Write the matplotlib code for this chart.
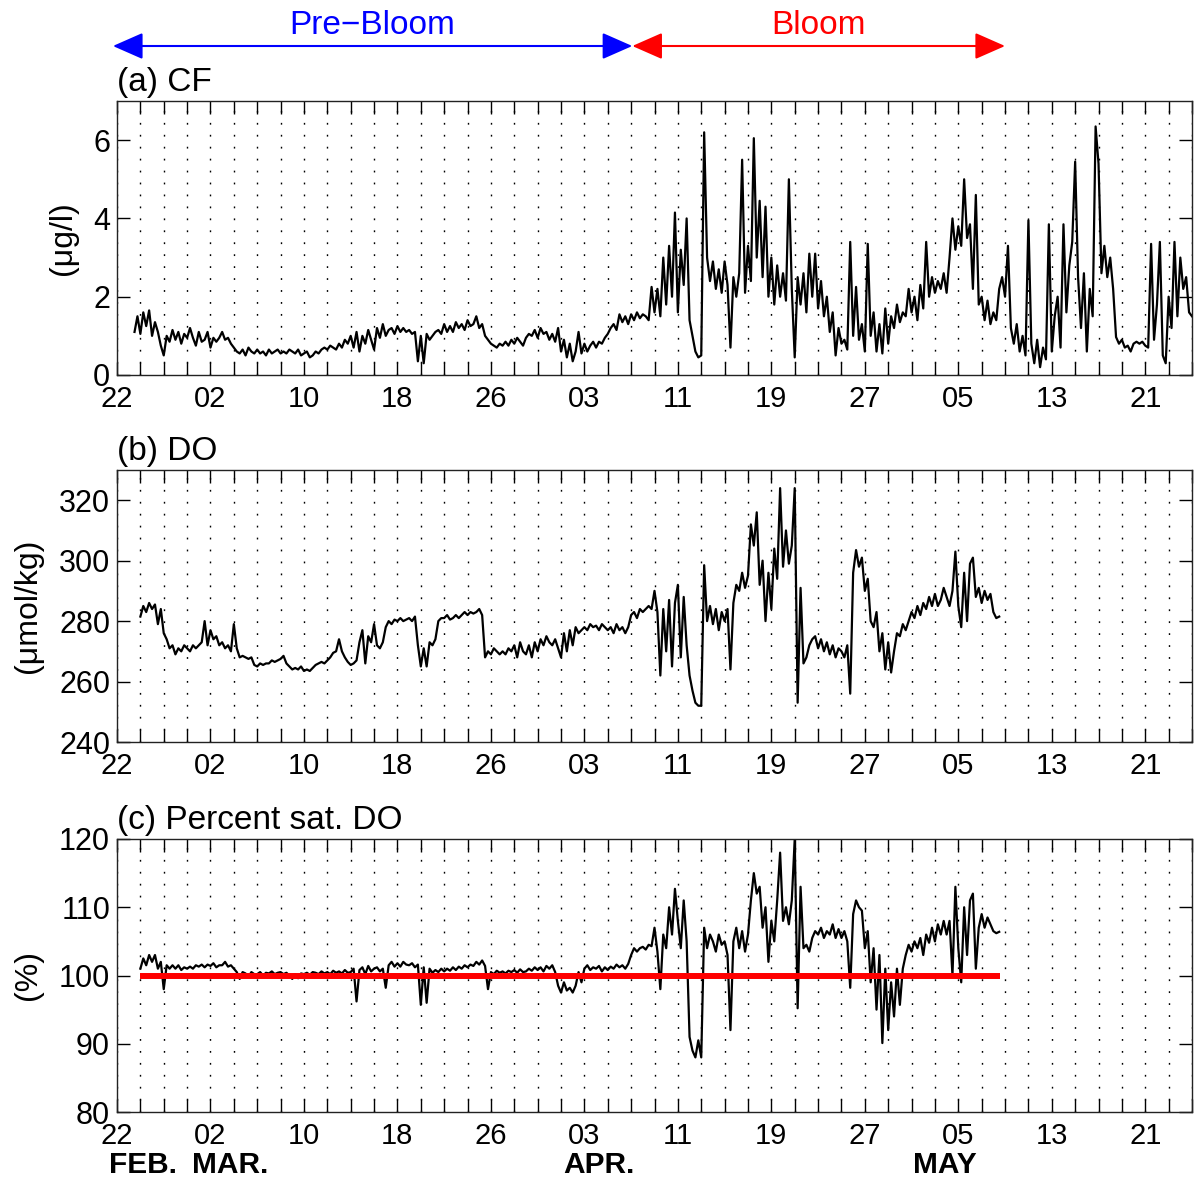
import numpy as np
import matplotlib
matplotlib.use('Agg')
import matplotlib.pyplot as plt

plt.rcParams['font.family'] = ['Liberation Sans', 'DejaVu Sans']

# ---------------------------------------------------------------
# Data (days since 22 Feb, sampled every 0.25 day, read off figure)
# ---------------------------------------------------------------
step = 0.25

cf_day0 = 1.5
cf = [
    1.1, 1.5, 1.05, 1.6,      # 1.5
    1.25, 1.65, 1.0, 1.35,    # 2.5
    1.1, 0.75, 0.5, 1.0,      # 3.5
    0.85, 1.15, 0.9, 1.1,     # 4.5
    0.8, 1.05, 0.95, 1.2,     # 5.5
    0.95, 0.75, 1.1, 0.85,    # 6.5
    0.9, 1.1, 0.7, 0.95,      # 7.5
    0.85, 0.95, 1.1, 0.9,     # 8.5
    0.95, 0.8, 0.7, 0.6,      # 9.5
    0.55, 0.65, 0.5, 0.7,     # 10.5
    0.6, 0.55, 0.65, 0.55,    # 11.5
    0.6, 0.5, 0.65, 0.55,     # 12.5
    0.6, 0.65, 0.55, 0.6,     # 13.5
    0.55, 0.65, 0.6, 0.55,    # 14.5
    0.65, 0.5, 0.55, 0.6,     # 15.5
    0.45, 0.5, 0.6, 0.55,     # 16.5
    0.65, 0.7, 0.65, 0.75,    # 17.5
    0.7, 0.65, 0.8, 0.7,      # 18.5
    0.9, 0.8, 1.0, 0.7,       # 19.5
    1.1, 0.6, 1.0, 0.8,       # 20.5
    1.15, 0.9, 0.65, 1.2,     # 21.5
    0.95, 1.3, 1.0, 1.15,     # 22.5
    1.2, 1.05, 1.25, 1.1,     # 23.5
    1.2, 1.1, 1.15, 1.05,     # 24.5
    1.1, 0.35, 1.0, 0.3,      # 25.5
    1.05, 0.9, 1.0, 1.1,      # 26.5
    1.15, 1.05, 1.3, 1.1,     # 27.5
    1.25, 1.1, 1.35, 1.2,     # 28.5
    1.3, 1.15, 1.4, 1.25,     # 29.5
    1.3, 1.5, 1.2, 1.3,       # 30.5
    1.0, 0.9, 0.8, 0.75,      # 31.5
    0.7, 0.8, 0.75, 0.85,     # 32.5
    0.75, 0.9, 0.8, 0.95,     # 33.5
    0.85, 0.75, 0.95, 1.05,   # 34.5
    1.0, 1.15, 0.95, 1.2,     # 35.5
    1.05, 1.1, 0.9, 1.05,     # 36.5
    0.85, 1.2, 0.6, 0.9,      # 37.5
    0.45, 0.8, 0.35, 0.6,     # 38.5
    1.1, 0.55, 0.8, 0.6,      # 39.5
    0.75, 0.85, 0.7, 0.85,    # 40.5
    0.8, 0.95, 1.05, 1.2,     # 41.5
    1.3, 1.15, 1.55, 1.35,    # 42.5
    1.5, 1.3, 1.55, 1.4,      # 43.5
    1.6, 1.45, 1.55, 1.5,     # 44.5
    1.4, 2.25, 1.6, 2.2,      # 45.5
    1.5, 3.0, 1.8, 3.3,       # 46.5
    2.0, 4.15, 1.6, 3.2,      # 47.5
    2.3, 4.0, 1.4, 1.0,       # 48.5
    0.6, 0.45, 0.5, 6.2,      # 49.5
    3.0, 2.4, 2.9, 2.2,       # 50.5
    2.7, 2.1, 2.9, 2.3,       # 51.5
    0.7, 2.5, 2.0, 2.6,       # 52.5
    5.5, 2.1, 3.3, 2.4,       # 53.5
    6.05, 3.0, 4.45, 2.5,     # 54.5
    4.3, 2.0, 3.0, 1.8,       # 55.5
    2.8, 2.0, 2.6, 1.9,       # 56.5
    5.0, 2.2, 0.45, 2.5,      # 57.5
    1.8, 2.6, 1.6, 3.1,       # 58.5
    2.0, 3.1, 1.7, 2.4,       # 59.5
    1.5, 2.0, 1.1, 1.6,       # 60.5
    0.5, 1.2, 0.8, 0.9,       # 61.5
    0.65, 3.4, 1.0, 2.25,     # 62.5
    0.9, 1.3, 0.6, 3.35,      # 63.5
    1.0, 1.6, 0.6, 1.3,       # 64.5
    0.55, 1.7, 0.8, 1.5,      # 65.5
    1.2, 1.8, 1.35, 1.6,      # 66.5
    1.5, 2.2, 1.6, 2.0,       # 67.5
    1.4, 2.3, 1.7, 3.4,       # 68.5
    2.0, 2.5, 2.1, 2.4,       # 69.5
    2.2, 2.6, 2.1, 3.0,       # 70.5
    4.0, 3.2, 3.8, 3.3,       # 71.5
    5.0, 3.5, 3.85, 2.2,      # 72.5
    4.6, 1.8, 2.0, 1.4,       # 73.5
    1.9, 1.3, 1.6, 1.4,       # 74.5
    2.2, 2.5, 2.0, 3.3,       # 75.5
    1.2, 0.8, 1.3, 0.6,       # 76.5
    1.0, 0.5, 3.95, 0.8,      # 77.5
    0.3, 0.9, 0.2, 0.7,       # 78.5
    0.4, 3.85, 0.6, 1.5,      # 79.5
    2.0, 0.7, 3.85, 1.6,      # 80.5
    2.8, 3.4, 5.45, 2.5,      # 81.5
    1.2, 2.6, 0.6, 2.2,       # 82.5
    1.5, 6.35, 5.4, 2.6,      # 83.5
    3.3, 2.5, 3.0, 2.2,       # 84.5
    0.97, 0.8, 0.9, 0.7,      # 85.5
    0.75, 0.6, 0.8, 0.85,     # 86.5
    0.8, 0.85, 0.75, 0.7,     # 87.5
    3.35, 0.9, 1.8, 3.4,      # 88.5
    0.5, 0.3, 2.0, 1.2,       # 89.5
    3.4, 1.5, 3.0, 2.2,       # 90.5
    2.5, 1.6, 1.5,            # 91.5
]

do_day0 = 2.0
do = [
    281.5, 285, 283, 286,     # 2
    284, 285.5, 279, 284,     # 3
    276, 274, 271, 272,       # 4
    269, 271, 270, 272,       # 5
    271, 270, 272, 271,       # 6
    272, 273, 280, 272,       # 7
    277, 274, 275, 272,       # 8
    273, 271, 272, 270,       # 9
    279, 271, 268, 268.5,     # 10
    268, 267.5, 268, 265.5,   # 11
    265, 266, 265.5, 266,     # 12
    266, 267, 266.5, 267,     # 13
    267.5, 268.5, 266, 265,   # 14
    264, 264.5, 264, 265,     # 15
    263.5, 264, 263.5, 264.5, # 16
    265.5, 266, 266.5, 266,   # 17
    267, 268, 269.5, 270,     # 18
    274, 270, 268, 266.5,     # 19
    265.5, 266, 267, 273,     # 20
    277, 266, 275, 273,       # 21
    279, 272, 271, 273,       # 22
    278, 280, 279, 280.5,     # 23
    280, 281, 280, 280.5,     # 24
    281, 280, 281.5, 272,     # 25
    265, 271, 265, 273,       # 26
    272, 274, 280, 281,       # 27
    281, 282, 280.5, 281,     # 28
    282, 281, 282, 283,       # 29
    282, 283, 282.5, 283,     # 30
    284, 282, 268, 270,       # 31
    269, 271, 270, 269,       # 32
    270, 269, 271, 270,       # 33
    272, 268, 273, 270,       # 34
    269, 272, 268, 273,       # 35
    270, 274, 272, 275,       # 36
    273, 272, 274, 271,       # 37
    268, 276, 270, 277,       # 38
    272, 278, 276, 277,       # 39
    278, 277, 279, 278,       # 40
    278.5, 277, 279, 278,     # 41
    277, 278, 276, 279,       # 42
    277, 278, 276, 278,       # 43
    282, 283, 281, 284,       # 44
    283, 284, 285, 284,       # 45
    290, 283, 262, 284,       # 46
    270, 287, 265, 286,       # 47
    292, 268, 288, 272,       # 48
    262, 257, 253, 252,       # 49
    252, 298.5, 280, 285,     # 50
    279, 284, 277, 283,       # 51
    280, 284, 264, 286,       # 52
    292, 290, 296, 291,       # 53
    295, 312, 305, 316,       # 54
    292, 300, 280, 296,       # 55
    284, 304, 294, 324,       # 56
    298, 310, 299, 305,       # 57
    324, 253, 291, 266,       # 58
    268, 272, 274, 275,       # 59
    271, 274, 270, 273,       # 60
    269, 272, 268, 271,       # 61
    270, 268, 272, 256,       # 62
    296, 303.5, 298, 301,     # 63
    290, 294, 280, 278,       # 64
    283, 270, 276, 264,       # 65
    273, 263, 270, 276,       # 66
    275, 279, 277, 280,       # 67
    283, 281, 285, 282,       # 68
    286, 284, 288, 285,       # 69
    289, 285, 287, 291,       # 70
    288, 285, 290, 303,       # 71
    285, 278, 296, 280,       # 72
    299, 301, 288, 291,       # 73
    286, 290, 287, 289,       # 74
    283, 281, 281.5,          # 75
]

sat_day0 = 2.0
sat = [
    101, 102.5, 101.5, 103,       # 2
    102, 103, 101, 102,           # 3
    98, 101.5, 101, 101.5,        # 4
    101, 101.5, 100.8, 101.2,     # 5
    101, 101.3, 101, 101.5,       # 6
    101.3, 101.6, 101.2, 101.6,   # 7
    101.4, 101.8, 101.2, 101.5,   # 8
    101.5, 102, 101.3, 101.5,     # 9
    101, 100.5, 99.5, 100.5,      # 10
    100.3, 99.8, 100.5, 100.2,    # 11
    100.2, 100.5, 100, 100.4,     # 12
    100.3, 100.6, 100.2, 100.4,   # 13
    100.5, 100.2, 100.4, 100,     # 14
    99.5, 100.2, 99.6, 100.3,     # 15
    100.2, 100.4, 100.1, 100.5,   # 16
    100.4, 100.2, 100.6, 100.3,   # 17
    100.5, 100.2, 100.7, 100.4,   # 18
    100.6, 100.3, 100.8, 100.4,   # 19
    100.5, 101, 96.2, 100.8,      # 20
    101.2, 100.2, 101.4, 100.6,   # 21
    101, 101.2, 100.6, 101,       # 22
    98.2, 101.5, 102, 101.3,      # 23
    101.8, 101.3, 102, 101.6,     # 24
    101.5, 101.8, 101.2, 101.6,   # 25
    95.7, 101.2, 96, 101,         # 26
    100.4, 100.8, 100.5, 101,     # 27
    100.6, 101, 100.7, 101.2,     # 28
    100.8, 101.3, 101, 101.5,     # 29
    101.2, 101.6, 101.4, 102,     # 30
    101.6, 102.2, 101.4, 98,      # 31
    100.5, 100.2, 100.7, 100.4,   # 32
    100.6, 100.3, 100.7, 100.5,   # 33
    100.8, 100.4, 100.9, 100.5,   # 34
    100.6, 101, 100.7, 101.2,     # 35
    100.8, 101.2, 100.6, 101.4,   # 36
    101, 101.5, 100.5, 98.5,      # 37
    97.5, 99, 97.8, 98.2,         # 38
    97.5, 98.5, 100.5, 99,        # 39
    101, 101.5, 100.8, 101.2,     # 40
    101, 101.4, 100.6, 101.2,     # 41
    100.8, 101.3, 101, 101.6,     # 42
    101.2, 101.5, 101, 101.7,     # 43
    103, 104, 103.5, 104,         # 44
    104.2, 103.8, 104.5, 104.3,   # 45
    107, 103.5, 98, 106,          # 46
    104, 110, 106, 112.7,         # 47
    108, 104, 111, 105,           # 48
    91, 89, 88, 90.5,             # 49
    88, 107, 104, 106,            # 50
    105, 103.5, 106, 104.5,       # 51
    105, 103, 92, 105,            # 52
    107, 104, 106.5, 103.5,       # 53
    106, 111, 115, 112,           # 54
    113, 107, 110, 102,           # 55
    108, 105, 111, 118,           # 56
    108, 110, 107.5, 111,         # 57
    120, 95.2, 113, 104,          # 58
    104.5, 103.5, 105.5, 106.5,   # 59
    106, 107, 105.5, 106.5,       # 60
    106, 107.5, 105.5, 106.8,     # 61
    105.5, 106.5, 105, 98.2,      # 62
    109, 111, 110, 109.5,         # 63
    104, 106.5, 99, 104,          # 64
    95, 103, 90.1, 101,           # 65
    92, 99, 94, 101,              # 66
    95.7, 101, 103, 104.5,        # 67
    103.5, 105, 104, 105.5,       # 68
    103, 106, 104.8, 107,         # 69
    105, 107.5, 106, 108,         # 70
    106, 108, 100, 113,           # 71
    104, 99, 110, 103,            # 72
    111, 112, 101, 107,           # 73
    109, 107, 108.5, 107.5,       # 74
    106.5, 106.2, 106.4,          # 75
]

# saturation reference line (100 %) and period arrows, in days
sat_ref = 100
sat_ref_span = [2.0, 75.6]
prebloom_span = [-0.35, 44.1]
bloom_span = [44.1, 76.0]

tick_labels = ['22', '02', '10', '18', '26', '03', '11', '19', '27', '05', '13', '21']
month_labels = ['FEB.', 'MAR.', 'APR.', 'MAY']
month_days = [-0.7, 6.4, 38.2, 68.1]

# ---------------------------------------------------------------
# Figure
# ---------------------------------------------------------------
fig = plt.figure(figsize=(11.94, 11.82), dpi=100)
W, H = 1194.0, 1182.0

def add_panel(top, bottom):
    left, right = 117, 1192
    return fig.add_axes([left / W, 1 - bottom / H, (right - left) / W, (bottom - top) / H])

ax1 = add_panel(101, 375)
ax2 = add_panel(470, 742)
ax3 = add_panel(839, 1112)

xticks = np.arange(0, 93, 2)
xlabels = [tick_labels[i // 4] if i % 4 == 0 else '' for i in range(len(xticks))]

def style(ax, ylim, yticks, ylabel, label_x):
    ax.set_xlim(0, 92)
    ax.set_ylim(*ylim)
    ax.set_xticks(xticks)
    ax.set_xticklabels(xlabels)
    ax.set_yticks(yticks)
    ax.xaxis.grid(True, linestyle=(0, (1.3, 7.3)), color='black', linewidth=1.0)
    ax.tick_params(direction='in', length=9.5, width=1.0, top=True, right=True)
    ax.tick_params(axis='x', pad=7.5, labelsize=21)
    ax.tick_params(axis='y', pad=5, labelsize=22)
    for sp in ax.spines.values():
        sp.set_linewidth(1.0)
        sp.set_color('#222222')
    ax.set_ylabel(ylabel, fontsize=23)
    ax.yaxis.set_label_coords(label_x, 0.5)

line_kw = dict(color='black', linewidth=1.6)

x_cf = cf_day0 + step * np.arange(len(cf))
x_do = do_day0 + step * np.arange(len(do))
x_sat = sat_day0 + step * np.arange(len(sat))

title_kw = dict(loc='left', fontsize=24, pad=7.5)

ax1.plot(x_cf, cf, **line_kw)
style(ax1, (0, 7), [0, 2, 4, 6], '(μg/l)', -0.036)
ax1.set_title('(a) CF', **title_kw)

ax2.plot(x_do, do, **line_kw)
style(ax2, (240, 330), [240, 260, 280, 300, 320], '(μmol/kg)', -0.069)
ax2.set_title('(b) DO', **title_kw)

ax3.plot(x_sat, sat, **line_kw)
ax3.plot(sat_ref_span, [sat_ref, sat_ref], color='red', linewidth=4.3, solid_capstyle='butt')
style(ax3, (80, 120), [80, 90, 100, 110, 120], '(%)', -0.069)
ax3.set_title('(c) Percent sat. DO', **title_kw)

# month names below bottom panel
for name, d in zip(month_labels, month_days):
    ax3.text(d, -0.194, name, transform=ax3.get_xaxis_transform(),
             ha='left', va='center', fontsize=21.5, fontweight='bold')

# period arrows above the top panel
arrow_y = 1 - 46 / H
text_y = 1 - 25 / H
for span, color, label in [(prebloom_span, 'blue', 'Pre\u2212Bloom'),
                           (bloom_span, 'red', 'Bloom')]:
    ax1.annotate('', xy=(span[1], arrow_y), xytext=(span[0], arrow_y),
                 xycoords=('data', 'figure fraction'),
                 textcoords=('data', 'figure fraction'),
                 arrowprops=dict(arrowstyle='<|-|>,head_length=0.75,head_width=0.33',
                                 mutation_scale=25, color=color, linewidth=1.5,
                                 shrinkA=0, shrinkB=0),
                 annotation_clip=False)
    ax1.annotate(label, xy=((span[0] + span[1]) / 2, text_y),
                 xycoords=('data', 'figure fraction'),
                 ha='center', va='center', fontsize=24, color=color,
                 annotation_clip=False)

fig.savefig('out.png', dpi=100)
